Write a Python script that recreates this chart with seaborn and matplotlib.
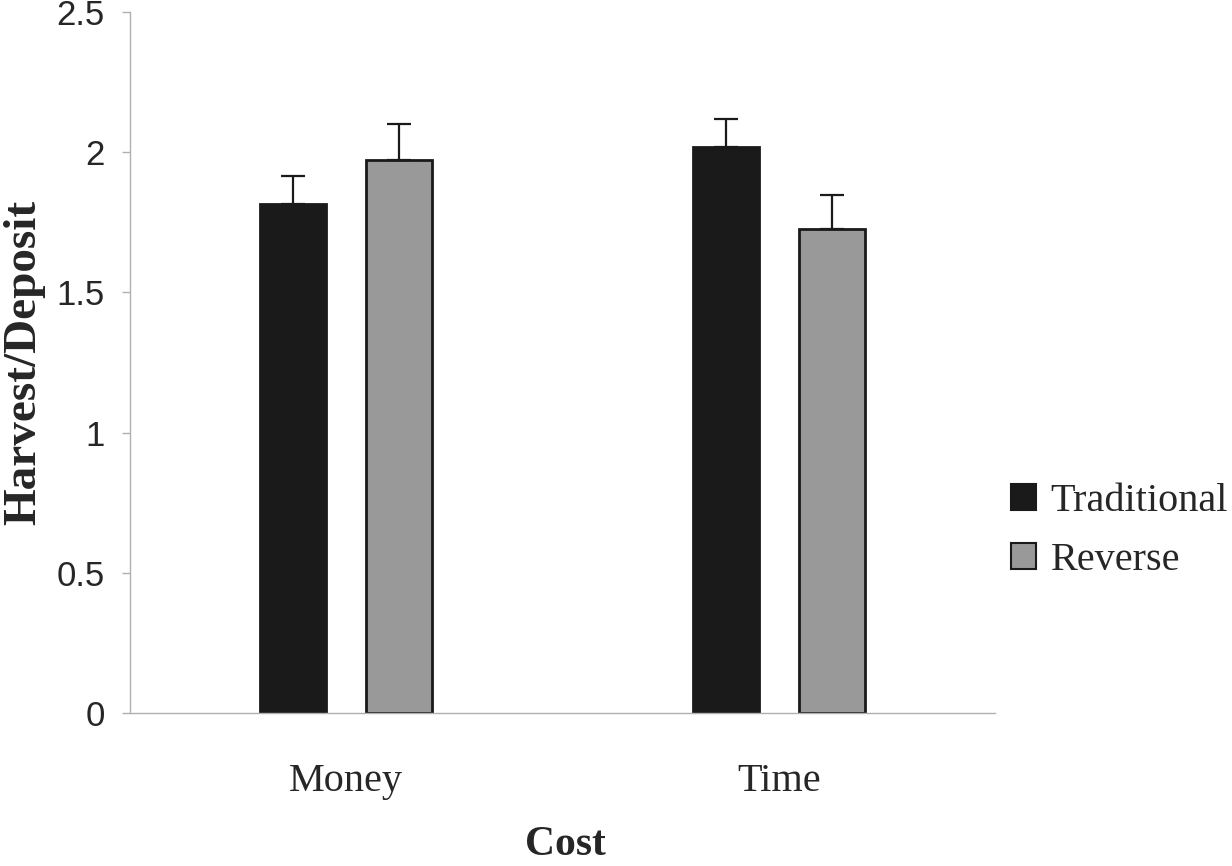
import seaborn as sns
import matplotlib.pyplot as plt
import pandas as pd
import numpy as np

costs = ['Money', 'Time']
conditions = ['Traditional', 'Reverse']
traditional = [1.815, 2.018]
reverse = [1.972, 1.726]
traditional_err = [0.10, 0.10]
reverse_err = [0.13, 0.12]
yticks = [0, 0.5, 1, 1.5, 2, 2.5]
ytick_labels = ['0', '0.5', '1', '1.5', '2', '2.5']

df = pd.DataFrame({
    'Cost': costs * 2,
    'Condition': ['Traditional'] * 2 + ['Reverse'] * 2,
    'Value': traditional + reverse,
    'Err': traditional_err + reverse_err,
})

sns.set_style('white')
serif = ['Liberation Serif', 'DejaVu Serif']
sans = ['Liberation Sans', 'DejaVu Sans']

fig = plt.figure(figsize=(12.32, 8.66), dpi=100)
ax = fig.add_axes([0.1055, 0.1767, 0.7021, 0.8094])

sns.barplot(data=df, x='Cost', y='Value', hue='Condition', order=costs,
            hue_order=conditions,
            palette={'Traditional': '#1a1a1a', 'Reverse': '#999999'},
            edgecolor='#1a1a1a', linewidth=2, width=0.49, gap=0.375,
            errorbar=None, legend=False, ax=ax)

# upper error bars only, placed on the bar centres
for bar_cont, cond in zip(ax.containers, conditions):
    sub = df[df['Condition'] == cond].set_index('Cost').loc[costs]
    xs = [p.get_x() + p.get_width() / 2 for p in bar_cont.patches]
    ax.errorbar(xs, sub['Value'], yerr=[np.zeros(len(xs)), sub['Err']],
                fmt='none', ecolor='#1a1a1a', elinewidth=1.6, capsize=8.5,
                capthick=1.6, zorder=1)

ax.set_xlim(-0.5, 1.5)
ax.set_ylim(0, 2.5)
ax.set_yticks(yticks)
ax.set_yticklabels(ytick_labels, family=sans, fontsize=25)
ax.set_xticks([0, 1])
ax.set_xticklabels(costs, family=serif, fontsize=29)
ax.set_xticks([-0.5, 0.5, 1.5], minor=True)
ax.tick_params(axis='x', which='major', length=0, pad=36)
ax.tick_params(axis='x', which='minor', length=9, width=1, color='#b0b0b0', direction='out')
ax.tick_params(axis='y', length=6, width=1, color='#b0b0b0', direction='out', pad=12, left=True)

for side in ['top', 'right']:
    ax.spines[side].set_visible(False)
for side in ['left', 'bottom']:
    ax.spines[side].set_color('#b0b0b0')
    ax.spines[side].set_linewidth(1)

ax.set_xlabel('')
ax.set_ylabel('')
fig.text(0.459, 0.024, 'Cost', family=serif, fontsize=30, fontweight='bold',
         ha='center', va='center')
fig.text(0.02, 0.582, 'Harvest/Deposit', family=serif, fontsize=34,
         fontweight='bold', rotation=90, ha='center', va='center')

handles = [plt.Rectangle((0, 0), 1, 1, facecolor='#1a1a1a', edgecolor='#1a1a1a', linewidth=1.5),
           plt.Rectangle((0, 0), 1, 1, facecolor='#999999', edgecolor='#1a1a1a', linewidth=1.5)]
fig.legend(handles, conditions, loc='center left', bbox_to_anchor=(0.821, 0.387),
           frameon=False, prop={'family': serif, 'size': 29},
           handlelength=0.62, handleheight=0.62, handletextpad=0.35,
           labelspacing=0.55, borderpad=0, borderaxespad=0)

fig.savefig('out.png', dpi=100)
